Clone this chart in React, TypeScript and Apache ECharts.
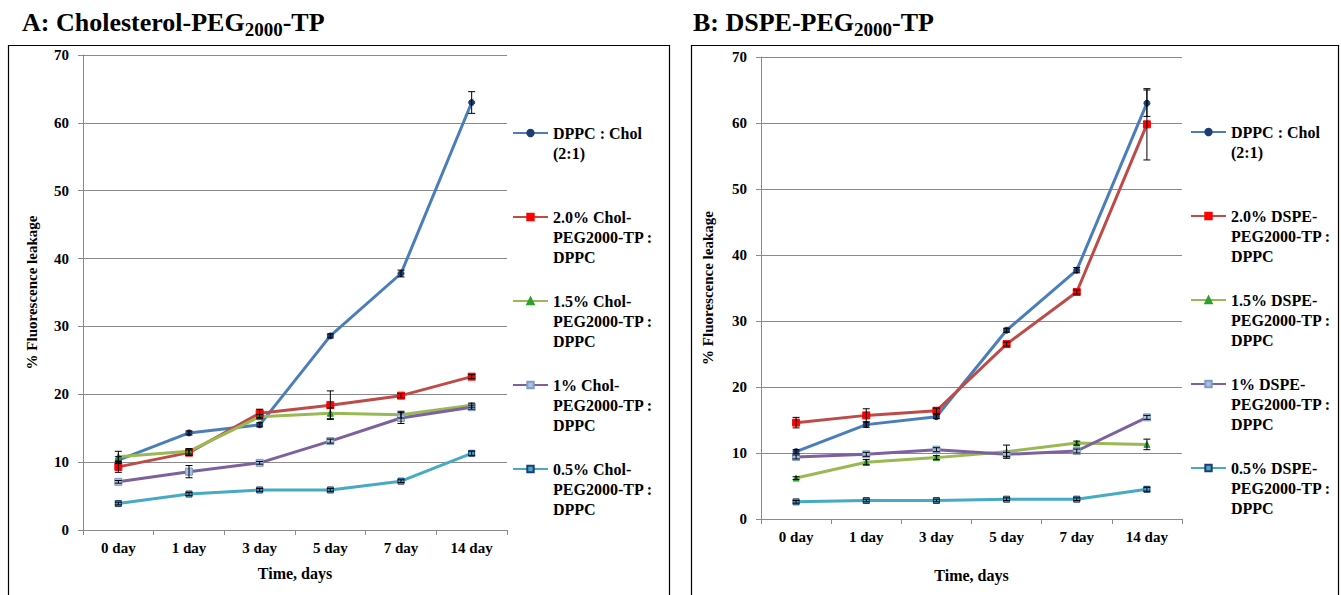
import React, { useEffect, useRef } from "react";
import * as echarts from "echarts";

const days = ["0 day", "1 day", "3 day", "5 day", "7 day", "14 day"];

// Panel A: Cholesterol-PEG2000-TP
const aNames = [
  "DPPC : Chol (2:1)",
  "2.0% Chol-PEG2000-TP : DPPC",
  "1.5% Chol-PEG2000-TP : DPPC",
  "1% Chol-PEG2000-TP : DPPC",
  "0.5% Chol-PEG2000-TP : DPPC",
];
const aLabels = [
  "DPPC : Chol\n(2:1)",
  "2.0% Chol-\nPEG2000-TP :\nDPPC",
  "1.5% Chol-\nPEG2000-TP :\nDPPC",
  "1% Chol-\nPEG2000-TP :\nDPPC",
  "0.5% Chol-\nPEG2000-TP :\nDPPC",
];
const aBlue = [10.3, 14.3, 15.5, 28.6, 37.8, 63.0];
const aRed = [9.3, 11.4, 17.2, 18.4, 19.8, 22.6];
const aGreen = [10.8, 11.6, 16.7, 17.2, 17.0, 18.4];
const aPurple = [7.1, 8.6, 9.9, 13.1, 16.5, 18.1];
const aCyan = [3.9, 5.3, 5.9, 5.9, 7.2, 11.3];
const aBlueErr = [0.5, 0.3, 0.3, 0.3, 0.5, 1.6];
const aRedErr = [0.8, 0.4, 0.6, 2.1, 0.3, 0.3];
const aGreenErr = [0.8, 0.4, 0.3, 0.8, 0.5, 0.3];
const aPurpleErr = [0.2, 0.9, 0.2, 0.3, 0.8, 0.3];
const aCyanErr = [0.2, 0.2, 0.2, 0.2, 0.2, 0.3];

// Panel B: DSPE-PEG2000-TP
const bNames = [
  "DPPC : Chol (2:1)",
  "2.0% DSPE-PEG2000-TP : DPPC",
  "1.5% DSPE-PEG2000-TP : DPPC",
  "1% DSPE-PEG2000-TP : DPPC",
  "0.5% DSPE-PEG2000-TP : DPPC",
];
const bLabels = [
  "DPPC : Chol\n(2:1)",
  "2.0% DSPE-\nPEG2000-TP :\nDPPC",
  "1.5% DSPE-\nPEG2000-TP :\nDPPC",
  "1% DSPE-\nPEG2000-TP :\nDPPC",
  "0.5% DSPE-\nPEG2000-TP :\nDPPC",
];
const bBlue = [10.2, 14.3, 15.5, 28.6, 37.7, 63.0];
const bRed = [14.6, 15.7, 16.4, 26.5, 34.4, 59.8];
const bGreen = [6.2, 8.6, 9.3, 10.2, 11.5, 11.3];
const bPurple = [9.4, 9.8, 10.5, 9.8, 10.3, 15.4];
const bCyan = [2.6, 2.8, 2.8, 3.0, 3.0, 4.5];
const bBlueErr = [0.3, 0.4, 0.3, 0.3, 0.4, 2.0];
const bRedErr = [0.8, 1.0, 0.4, 0.3, 0.3, 5.4];
const bGreenErr = [0.2, 0.4, 0.3, 1.0, 0.3, 0.8];
const bPurpleErr = [0.3, 0.3, 0.3, 0.3, 0.3, 0.3];
const bCyanErr = [0.2, 0.2, 0.2, 0.2, 0.2, 0.3];

const FONT = "'Liberation Serif', 'Times New Roman', serif";

const styles = [
  { line: "#4A7EBB", symbol: "circle", size: 6, fill: "#1F3C73", border: "#1F3C73" },
  { line: "#BE4B48", symbol: "rect", size: 7, fill: "#FF0000", border: "#FF0000" },
  { line: "#98B954", symbol: "triangle", size: 6, fill: "#2DA02D", border: "#2DA02D" },
  { line: "#7D60A0", symbol: "rect", size: 7, fill: "#A9C1DE", border: "#7F9CC8" },
  { line: "#46AAC5", symbol: "rect", size: 6, fill: "#46AAC5", border: "#1F3C73" },
];

function lineSeries(name: string, data: number[], idx: number, st: any) {
  return {
    type: "line",
    name,
    data,
    xAxisIndex: idx,
    yAxisIndex: idx,
    symbol: st.symbol,
    symbolSize: st.size,
    lineStyle: { color: st.line, width: 3 },
    itemStyle: { color: st.fill, borderColor: st.border, borderWidth: 1 },
    z: 3,
  };
}

function errSeries(values: number[], errs: number[], idx: number) {
  return {
    type: "custom",
    name: "err",
    xAxisIndex: idx,
    yAxisIndex: idx,
    z: 5,
    data: values.map((v, i) => [i, v - errs[i], v + errs[i]]),
    encode: { x: 0, y: [1, 2] },
    renderItem: (params: any, api: any) => {
      const x = api.value(0);
      const lo = api.coord([x, api.value(1)]);
      const hi = api.coord([x, api.value(2)]);
      const w = 3.5;
      const s = { stroke: "#000", lineWidth: 1 };
      return {
        type: "group",
        children: [
          { type: "line", shape: { x1: lo[0], y1: lo[1], x2: hi[0], y2: hi[1] }, style: s },
          { type: "line", shape: { x1: lo[0] - w, y1: lo[1], x2: lo[0] + w, y2: lo[1] }, style: s },
          { type: "line", shape: { x1: hi[0] - w, y1: hi[1], x2: hi[0] + w, y2: hi[1] }, style: s },
        ],
      };
    },
  };
}

function pad(label: string) {
  const n = label.split("\n").length;
  return "\n\n" + label + (n === 2 ? "\n" : "");
}

export default function App() {
  const ref = useRef<HTMLDivElement>(null);
  useEffect(() => {
    if (!ref.current) return;
    const chart = echarts.init(ref.current, undefined, { renderer: "svg" });
    const labelMap: Record<string, string> = {};
    aNames.forEach((n, i) => (labelMap[n] = pad(aLabels[i])));
    bNames.forEach((n, i) => (labelMap[n] = pad(bLabels[i])));

    const gridLine = "#8A8A8A";
    const xAxisBase = (idx: number, gap: number) => ({
      type: "category",
      gridIndex: idx,
      data: days,
      boundaryGap: true,
      axisLine: { lineStyle: { color: gridLine, width: 1 } },
      axisTick: { show: true, length: 5, lineStyle: { color: gridLine } },
      axisLabel: { color: "#000", fontFamily: FONT, fontWeight: "bold", fontSize: 15, margin: 10 },
      name: "Time, days",
      nameLocation: "middle",
      nameGap: gap,
      nameTextStyle: { color: "#000", fontFamily: FONT, fontWeight: "bold", fontSize: 16 },
    });
    const yAxisBase = (idx: number, gap: number) => ({
      type: "value",
      gridIndex: idx,
      min: 0,
      max: 70,
      interval: 10,
      axisLine: { show: true, lineStyle: { color: gridLine, width: 1 } },
      axisTick: { show: true, length: 5, lineStyle: { color: gridLine } },
      splitLine: { show: true, lineStyle: { color: gridLine, width: 1 } },
      axisLabel: { color: "#000", fontFamily: FONT, fontWeight: "bold", fontSize: 15, margin: 14 },
      name: "% Fluorescence leakage",
      nameLocation: "middle",
      nameGap: gap,
      nameTextStyle: { color: "#000", fontFamily: FONT, fontWeight: "bold", fontSize: 15 },
    });
    const legendBase = (names: string[], left: number, top: number) => ({
      data: names,
      orient: "vertical",
      left,
      top,
      padding: 0,
      itemGap: -16,
      itemWidth: 35,
      itemHeight: 8,
      selectedMode: false,
      formatter: (name: string) => labelMap[name] || name,
      textStyle: { color: "#000", fontFamily: FONT, fontWeight: "bold", fontSize: 16, lineHeight: 20 },
    });

    const titleRich = {
      t: { fontFamily: FONT, fontWeight: "bold", fontSize: 26, fill: "#000", lineHeight: 30 },
      s: { fontFamily: FONT, fontWeight: "bold", fontSize: 19, fill: "#000", lineHeight: 30, padding: [14, 0, 0, 0] },
    };

    const aVals = [aBlue, aRed, aGreen, aPurple, aCyan];
    const aErrs = [aBlueErr, aRedErr, aGreenErr, aPurpleErr, aCyanErr];
    const bVals = [bBlue, bRed, bGreen, bPurple, bCyan];
    const bErrs = [bBlueErr, bRedErr, bGreenErr, bPurpleErr, bCyanErr];

    const series: any[] = [];
    aVals.forEach((v, i) => series.push(lineSeries(aNames[i], v, 0, styles[i])));
    bVals.forEach((v, i) => series.push(lineSeries(bNames[i], v, 1, styles[i])));
    aVals.forEach((v, i) => series.push(errSeries(v, aErrs[i], 0)));
    bVals.forEach((v, i) => series.push(errSeries(v, bErrs[i], 1)));

    chart.setOption({
      animation: false,
      backgroundColor: "#fff",
      grid: [
        { left: 83, top: 55, width: 424, height: 475 },
        { left: 761, top: 57, width: 421, height: 462 },
      ],
      xAxis: [xAxisBase(0, 35), xAxisBase(1, 48)],
      yAxis: [yAxisBase(0, 44), yAxisBase(1, 46)],
      legend: [legendBase(aNames, 512, 83), legendBase(bNames, 1190, 82)],
      graphic: [
        { type: "rect", shape: { x: 8.5, y: 45.5, width: 661, height: 600 }, style: { fill: "none", stroke: "#000", lineWidth: 1.2 } },
        { type: "rect", shape: { x: 691.5, y: 45.5, width: 647, height: 600 }, style: { fill: "none", stroke: "#000", lineWidth: 1.2 } },
        {
          type: "text",
          x: 22,
          y: 7,
          style: { text: "{t|A: Cholesterol-PEG}{s|2000}{t|-TP}", rich: titleRich },
        },
        {
          type: "text",
          x: 693,
          y: 7,
          style: { text: "{t|B: DSPE-PEG}{s|2000}{t|-TP}", rich: titleRich },
        },
      ],
      series,
    });
    return () => chart.dispose();
  }, []);
  return (
    <div
      ref={ref}
      style={{ position: "fixed", left: 0, top: 0, width: 1341, height: 595, background: "#fff" }}
    />
  );
}
